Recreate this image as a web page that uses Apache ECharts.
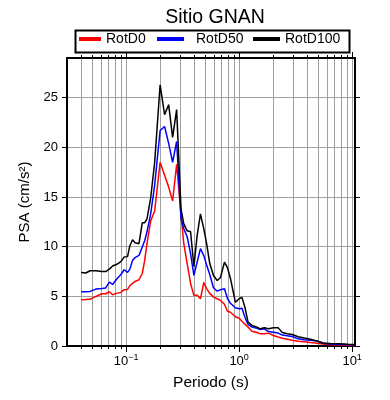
<!DOCTYPE html>
<html><head><meta charset="utf-8">
<script src="https://cdn.jsdelivr.net/npm/echarts@6/dist/echarts.min.js"></script>
<style>html,body{margin:0;padding:0;background:#fff}#c{width:390px;height:400px}</style>
</head><body><div id="c"></div>
<script>
const periods = [0.04, 0.044, 0.048, 0.054, 0.061, 0.066, 0.071, 0.076, 0.082, 0.09,
 0.096, 0.103, 0.108, 0.114, 0.12, 0.13, 0.139, 0.146, 0.153, 0.165,
 0.179, 0.2, 0.219, 0.238, 0.258, 0.28, 0.306, 0.324, 0.347, 0.372,
 0.398, 0.426, 0.455, 0.487, 0.514, 0.55, 0.593, 0.64, 0.684, 0.742,
 0.788, 0.838, 0.927, 1.0, 1.06, 1.125, 1.2, 1.3, 1.44, 1.54,
 1.67, 1.82, 2.01, 2.21, 2.41, 2.67, 2.95, 3.33, 3.77, 4.26,
 4.88, 5.55, 6.4, 7.83, 9.2, 10.6];
const rotD0 = [4.66, 4.68, 4.7, 4.99, 5.26, 5.26, 5.46, 5.16, 5.3, 5.4,
 5.67, 5.7, 6.07, 6.3, 6.5, 6.67, 7.3, 8.62, 10.3, 12.6,
 13.6, 18.5, 17.2, 16.0, 14.6, 18.3, 13.3, 10.3, 8.3, 6.3,
 5.1, 5.1, 4.76, 6.4, 5.8, 5.3, 4.92, 4.76, 4.59, 4.2,
 3.5, 3.4, 2.95, 2.8, 2.5, 2.2, 1.9, 1.49, 1.35, 1.23,
 1.23, 1.29, 1.06, 0.9, 0.79, 0.69, 0.58, 0.48, 0.42, 0.35,
 0.28, 0.2, 0.12, 0.09, 0.08, 0.08];
const rotD50 = [5.46, 5.46, 5.5, 5.73, 5.8, 5.85, 6.43, 6.2, 6.7, 7.2,
 7.68, 7.41, 7.74, 8.62, 8.9, 9.12, 9.96, 10.6, 11.5, 13.3,
 16.2, 21.7, 22.1, 20.4, 18.5, 20.6, 12.8, 11.8, 11.0, 9.3,
 7.1, 8.5, 9.8, 9.1, 8.2, 7.2, 5.87, 5.52, 5.67, 5.77,
 4.8, 4.3, 3.85, 3.75, 3.81, 2.9, 2.17, 1.9, 1.78, 1.65,
 1.73, 1.45, 1.39, 1.3, 1.1, 1.03, 0.96, 0.72, 0.62, 0.57,
 0.5, 0.28, 0.2, 0.16, 0.13, 0.12];
const rotD100 = [7.4, 7.35, 7.58, 7.58, 7.5, 7.5, 7.74, 8.05, 8.2, 8.5,
 8.95, 9.0, 10.1, 10.7, 10.4, 10.3, 12.4, 12.4, 12.8, 14.9,
 18.5, 26.3, 23.3, 24.3, 21.0, 23.8, 13.8, 12.3, 11.6, 11.5,
 8.0, 11.2, 13.3, 11.8, 10.4, 8.3, 7.1, 6.6, 6.9, 8.45,
 7.9, 6.8, 4.4, 4.76, 4.9, 3.9, 2.4, 2.07, 1.9, 1.73,
 1.83, 1.73, 1.83, 1.85, 1.35, 1.23, 1.16, 0.93, 0.8, 0.68,
 0.5, 0.3, 0.24, 0.22, 0.18, 0.15];
const seriesNames = ['RotD0', 'RotD50', 'RotD100'];
const majorTicks = [0.1, 1, 10];
const allTicks = [0.04, 0.05, 0.06, 0.07, 0.08, 0.09, 0.1, 0.2, 0.3, 0.4, 0.5, 0.6, 0.7, 0.8, 0.9, 1, 2, 3, 4, 5, 6, 7, 8, 9, 10];
const yTicks = [0, 5, 10, 15, 20, 25];

const FONT = 'Liberation Sans';
const GRID = {left: 67, right: 35, top: 58, bottom: 54};
const X_MIN = 0.03, X_MAX = 10.6;

function pairs(vals) { return periods.map((p, i) => [p, vals[i]]); }
function supLabel(v) {
  const e = Math.round(Math.log10(v));
  return '{b|10}{s|' + (e < 0 ? '\u2212' + (-e) : String(e)) + '}';
}

const chart = echarts.init(document.getElementById('c'), null, {renderer: 'canvas'});
const baseX = {type: 'log', logBase: 10, min: X_MIN, max: X_MAX};
const legendText = {fontFamily: FONT, fontSize: 14, color: '#000'};
const option = {
  animation: false,
  textStyle: {fontFamily: FONT},
  title: {text: 'Sitio GNAN', left: 210, textAlign: 'center', top: 3,
    textStyle: {fontFamily: FONT, fontSize: 19.5, fontWeight: 'normal', color: '#000'}},
  legend: [
    {data: [seriesNames[0]], left: 79, top: 32, itemWidth: 22, itemHeight: 4, icon: 'rect', padding: 0,
     textStyle: legendText},
    {data: [seriesNames[1]], left: 157, top: 32, itemWidth: 27, itemHeight: 4, icon: 'rect', padding: 0,
     textStyle: Object.assign({}, legendText, {padding: [0, 0, 0, 7]})},
    {data: [seriesNames[2]], left: 253, top: 32, itemWidth: 27, itemHeight: 4, icon: 'rect', padding: 0,
     textStyle: legendText}
  ],
  graphic: [{type: 'rect', left: 73, top: 28, shape: {width: 274, height: 22},
    style: {fill: 'none', stroke: '#000', lineWidth: 2}, silent: true}],
  grid: [
    Object.assign({}, GRID),
    Object.assign({}, GRID)
  ],
  xAxis: [
    Object.assign({}, baseX, {gridIndex: 0, position: 'bottom',
      name: 'Periodo (s)', nameLocation: 'middle', nameGap: 29,
      nameTextStyle: {fontFamily: FONT, fontSize: 15.5, color: '#000', verticalAlign: 'top'},
      axisLine: {show: true, onZero: false, lineStyle: {color: '#000', width: 2}},
      axisTick: {show: true, inside: false, length: 3, customValues: allTicks, lineStyle: {color: '#000', width: 1}},
      axisLabel: {show: true, customValues: majorTicks, margin: 7, formatter: supLabel,
        rich: {b: {fontFamily: FONT, fontSize: 13, color: '#000'},
               s: {fontFamily: FONT, fontSize: 9, color: '#000', padding: [0, 0, 8, 0]}}},
      splitLine: {show: true, lineStyle: {color: '#a0a0a0', width: 1}}}),
    Object.assign({}, baseX, {gridIndex: 0, position: 'top',
      axisLine: {show: true, onZero: false, lineStyle: {color: '#000', width: 2}},
      axisTick: {show: true, length: 3, customValues: allTicks, lineStyle: {color: '#000', width: 1}},
      axisLabel: {show: false}, splitLine: {show: false}}),
    Object.assign({}, baseX, {gridIndex: 1, position: 'bottom',
      axisLine: {show: false, onZero: false},
      axisTick: {show: true, length: 6, customValues: majorTicks, lineStyle: {color: '#000', width: 1}},
      axisLabel: {show: false}, splitLine: {show: false}}),
    Object.assign({}, baseX, {gridIndex: 1, position: 'top',
      axisLine: {show: false, onZero: false},
      axisTick: {show: true, length: 6, customValues: majorTicks, lineStyle: {color: '#000', width: 1}},
      axisLabel: {show: false}, splitLine: {show: false}})
  ],
  yAxis: [
    {gridIndex: 0, type: 'value', min: 0, max: 29, interval: 5, position: 'left',
     name: 'PSA (cm/s\u00b2)', nameLocation: 'middle', nameGap: 30, nameRotate: 90,
     nameTextStyle: {fontFamily: FONT, fontSize: 15, color: '#000'},
     axisLine: {show: true, onZero: false, lineStyle: {color: '#000', width: 2}},
     axisTick: {show: true, length: 5, customValues: yTicks, lineStyle: {color: '#000', width: 1}},
     axisLabel: {show: true, margin: 9, customValues: yTicks, fontFamily: FONT, fontSize: 13, color: '#000'},
     splitLine: {show: true, lineStyle: {color: '#a0a0a0', width: 1}}},
    {gridIndex: 0, type: 'value', min: 0, max: 29, interval: 5, position: 'right',
     axisLine: {show: true, onZero: false, lineStyle: {color: '#000', width: 2}},
     axisTick: {show: true, length: 5, customValues: yTicks, lineStyle: {color: '#000', width: 1}},
     axisLabel: {show: false}, splitLine: {show: false}},
    {gridIndex: 1, type: 'value', min: 0, max: 29, show: false}
  ],
  series: [
    {name: seriesNames[0], type: 'line', xAxisIndex: 0, yAxisIndex: 0, data: pairs(rotD0),
     showSymbol: false, symbol: 'none', color: '#ff0000', lineStyle: {width: 1.5, color: '#ff0000'}},
    {name: seriesNames[1], type: 'line', xAxisIndex: 0, yAxisIndex: 0, data: pairs(rotD50),
     showSymbol: false, symbol: 'none', color: '#0000ff', lineStyle: {width: 1.5, color: '#0000ff'}},
    {name: seriesNames[2], type: 'line', xAxisIndex: 0, yAxisIndex: 0, data: pairs(rotD100),
     showSymbol: false, symbol: 'none', color: '#000000', lineStyle: {width: 1.5, color: '#000000'}}
  ]
};
chart.setOption(option);
</script></body></html>
